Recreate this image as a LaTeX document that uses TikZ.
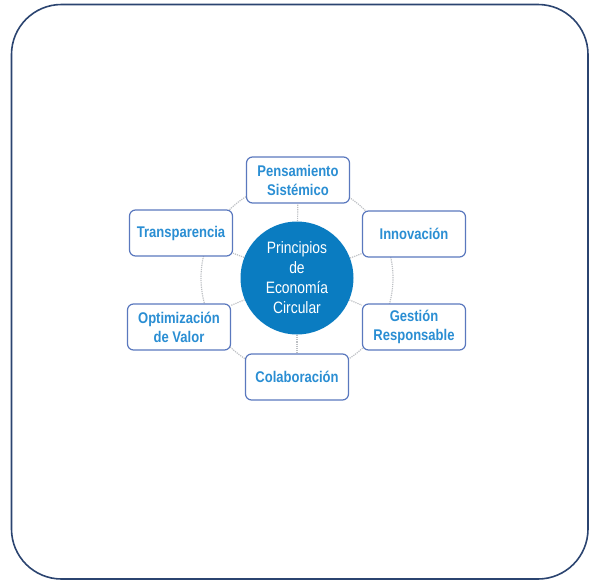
\documentclass[tikz,border=0pt]{standalone}
\usepackage{fontspec}
\setmainfont{Liberation Sans}
\newfontfamily\narrowfont[FakeStretch=0.84]{Liberation Sans}
\usetikzlibrary{positioning}
\definecolor{frameblue}{HTML}{2B4470}
\definecolor{hubblue}{HTML}{0A7CC1}
\definecolor{textblue}{HTML}{2A8ED3}
\definecolor{boxline}{HTML}{5A78BE}
\definecolor{ringgray}{HTML}{BDC0C4}
\begin{document}
\begin{tikzpicture}[x=1pt,y=-1pt,
  principle/.style={draw=boxline,line width=1.2pt,rounded corners=6pt,fill=white,
    minimum width=103pt,minimum height=46pt,inner sep=2pt,align=center,text=textblue,
    font=\narrowfont\bfseries\fontsize{15.5}{19}\selectfont},
  hub/.style={circle,fill=hubblue,minimum size=113pt,inner sep=0pt,align=center,
    text=white,font=\narrowfont\fontsize{16.5}{20}\selectfont},
  ring/.style={ringgray,densely dotted,line width=1.2pt}]

        \useasboundingbox (0,0) rectangle (590,581);
        \draw[frameblue,line width=1.6pt,rounded corners=50pt] (11.5,4.5) rectangle (588,579);

        \coordinate (M) at (297,278);
        \draw[ring] (M) circle[radius=96pt];

        \node (P) [hub] at (M) {Principios\\de\\Economía\\Circular};

        \node (S) [principle] at (298,180) {Pensamiento\\Sistémico};
        \node (I) [principle] at (414,234) {Innovación};
        \node (G) [principle] at (414,327) {Gestión\\Responsable};
        \node (C) [principle] at (297,377) {Colaboración};
        \node (O) [principle] at (179,327) {Optimización\\de Valor};
        \node (T) [principle] at (181,233) {Transparencia};

        % spokes
        \foreach \n in {S,I,G,C,O,T}
          \draw[ring] (P) -- (\n);
      \end{tikzpicture}
\end{document}
